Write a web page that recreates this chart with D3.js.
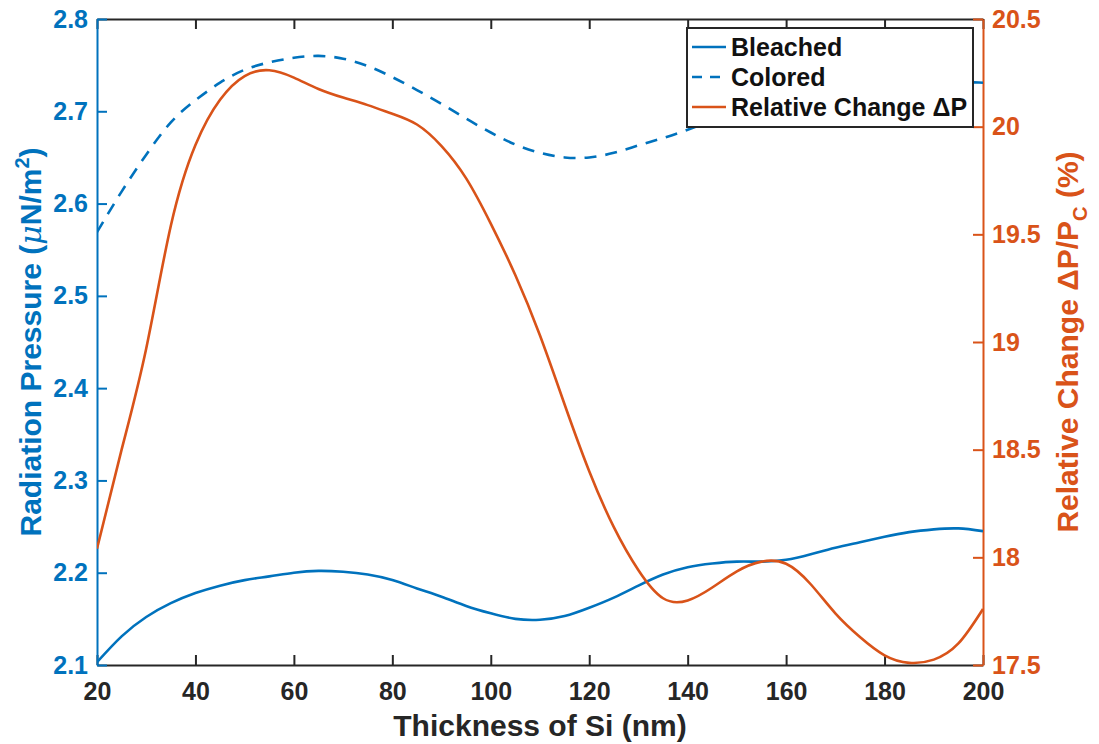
<!DOCTYPE html>
<html>
<head>
<meta charset="utf-8">
<script src="https://cdn.jsdelivr.net/npm/d3@7"></script>
<style>
  html, body { margin: 0; padding: 0; background: #fff; }
  svg { display: block; font-family: "Liberation Sans", Arial, Helvetica, sans-serif; font-weight: bold; }
</style>
</head>
<body>
<svg id="chart" width="1099" height="744"></svg>
<script>
// ---- Data ----
const thickness = [20,25,30,35,40,45,50,55,60,65,70,75,80,85,90,95,100,105,110,115,120,125,130,135,140,145,150,155,160,165,170,175,180,185,190,195,200];
const bleached = [2.103,2.131,2.152,2.167,2.178,2.186,2.192,2.196,2.200,2.202,2.201,2.198,2.192,2.183,2.174,2.164,2.156,2.150,2.149,2.153,2.162,2.173,2.186,2.198,2.206,2.210,2.212,2.212,2.214,2.220,2.227,2.233,2.239,2.244,2.247,2.248,2.245];
const colored = [2.569,2.613,2.653,2.688,2.712,2.731,2.745,2.753,2.758,2.760,2.757,2.749,2.737,2.723,2.708,2.692,2.677,2.664,2.655,2.650,2.650,2.655,2.663,2.671,2.680,2.690,2.699,2.707,2.714,2.720,2.725,2.728,2.731,2.732,2.733,2.732,2.731];
const relChange = [18.04,18.50,18.97,19.54,19.915,20.125,20.235,20.262,20.228,20.175,20.135,20.10,20.06,20.01,19.91,19.76,19.55,19.31,19.03,18.71,18.40,18.14,17.94,17.81,17.80,17.86,17.935,17.98,17.97,17.875,17.74,17.63,17.545,17.51,17.525,17.60,17.76];
const xTicks = [20,40,60,80,100,120,140,160,180,200];
const yLeftTicks = [2.1,2.2,2.3,2.4,2.5,2.6,2.7,2.8];
const yRightTicks = [17.5,18,18.5,19,19.5,20,20.5];
const legendLabels = ["Bleached","Colored","Relative Change \u0394P"];

// ---- Layout ----
const blue = "#0072BD", orange = "#D95319", dark = "#262626";
const L = 97, R = 983, T = 19, B = 665;
const svg = d3.select("#chart");

const x = d3.scaleLinear().domain([20,200]).range([L,R]);
const yL = d3.scaleLinear().domain([2.1,2.8]).range([B,T]);
const yR = d3.scaleLinear().domain([17.5,20.5]).range([B,T]);

const tickLen = 10;
const fmt = d => d3.format("")(d);
const tickFont = 25;

// bottom axis
const gB = svg.append("g").attr("transform",`translate(0,${B})`)
  .call(d3.axisBottom(x).tickValues(xTicks).tickFormat(fmt).tickSizeInner(-tickLen).tickSizeOuter(0).tickPadding(17));
gB.select(".domain").attr("stroke",dark).attr("stroke-width",2);
gB.selectAll(".tick line").attr("stroke",dark).attr("stroke-width",2);
gB.selectAll(".tick text").attr("fill",dark).attr("font-size",tickFont).attr("font-weight","bold").attr("font-family","Liberation Sans, Arial, sans-serif");

// top axis
const gT = svg.append("g").attr("transform",`translate(0,${T})`)
  .call(d3.axisTop(x).tickValues(xTicks).tickFormat("").tickSizeInner(-tickLen).tickSizeOuter(0));
gT.select(".domain").attr("stroke",dark).attr("stroke-width",2);
gT.selectAll(".tick line").attr("stroke",dark).attr("stroke-width",2);

// left axis
const gL = svg.append("g").attr("transform",`translate(${L},0)`)
  .call(d3.axisLeft(yL).tickValues(yLeftTicks).tickFormat(d3.format(".1f")).tickSizeInner(-tickLen).tickSizeOuter(0).tickPadding(9));
gL.select(".domain").attr("stroke",blue).attr("stroke-width",2);
gL.selectAll(".tick line").attr("stroke",blue).attr("stroke-width",2);
gL.selectAll(".tick text").attr("fill",blue).attr("font-size",tickFont).attr("font-weight","bold").attr("font-family","Liberation Sans, Arial, sans-serif");

// right axis
const gR = svg.append("g").attr("transform",`translate(${R},0)`)
  .call(d3.axisRight(yR).tickValues(yRightTicks).tickFormat(fmt).tickSizeInner(-tickLen).tickSizeOuter(0).tickPadding(9));
gR.select(".domain").attr("stroke",orange).attr("stroke-width",2);
gR.selectAll(".tick line").attr("stroke",orange).attr("stroke-width",2);
gR.selectAll(".tick text").attr("fill",orange).attr("font-size",tickFont).attr("font-weight","bold").attr("font-family","Liberation Sans, Arial, sans-serif");

// ---- Lines ----
svg.append("clipPath").attr("id","clip").append("rect")
  .attr("x",L).attr("y",T-2).attr("width",R-L).attr("height",B-T+4);
const plot = svg.append("g").attr("clip-path","url(#clip)");

const lineL = d3.line().x((d,i)=>x(thickness[i])).y(d=>yL(d)).curve(d3.curveNatural);
const lineR = d3.line().x((d,i)=>x(thickness[i])).y(d=>yR(d)).curve(d3.curveNatural);

plot.append("path").attr("d",lineL(bleached)).attr("fill","none").attr("stroke",blue).attr("stroke-width",2.6);
plot.append("path").attr("d",lineL(colored)).attr("fill","none").attr("stroke",blue).attr("stroke-width",2.6).attr("stroke-dasharray","12,9");
plot.append("path").attr("d",lineR(relChange)).attr("fill","none").attr("stroke",orange).attr("stroke-width",2.6);

// ---- Legend ----
const lg = svg.append("g");
lg.append("rect").attr("x",687).attr("y",28).attr("width",286).attr("height",99)
  .attr("fill","#fff").attr("stroke",dark).attr("stroke-width",2);
const styles = [{c:blue,d:null},{c:blue,d:"10,8"},{c:orange,d:null}];
legendLabels.forEach((t,i)=>{
  const yy = 47 + i*30;
  lg.append("line").attr("x1",692).attr("x2",726).attr("y1",yy).attr("y2",yy)
    .attr("stroke",styles[i].c).attr("stroke-width",2.6).attr("stroke-dasharray",styles[i].d);
  lg.append("text").attr("x",731).attr("y",yy).attr("dy","0.36em").attr("font-size",25).attr("fill","#111").text(t);
});

// ---- Axis titles ----
const titleFont = 30;
svg.append("text").attr("x",(L+R)/2).attr("y",736).attr("text-anchor","middle")
  .attr("font-size",titleFont).attr("fill",dark).text("Thickness of Si (nm)");

const lt = svg.append("text").attr("transform",`translate(41,${(T+B)/2}) rotate(-90)`)
  .attr("text-anchor","middle").attr("font-size",titleFont).attr("fill",blue);
lt.append("tspan").text("Radiation Pressure (");
lt.append("tspan").attr("font-style","italic").attr("font-weight","normal").attr("font-family","DejaVu Serif, serif").text("\u03bc");
lt.append("tspan").text("N/m");
lt.append("tspan").attr("dy",-12).attr("font-size",20).text("2");
lt.append("tspan").attr("dy",12).text(")");

const rt = svg.append("text").attr("transform",`translate(1078,${(T+B)/2}) rotate(-90)`)
  .attr("text-anchor","middle").attr("font-size",titleFont).attr("fill",orange);
rt.append("tspan").text("Relative Change \u0394P/P");
rt.append("tspan").attr("dy",9).attr("font-size",20).text("C");
rt.append("tspan").attr("dy",-9).text(" (%)");
</script>
</body>
</html>
